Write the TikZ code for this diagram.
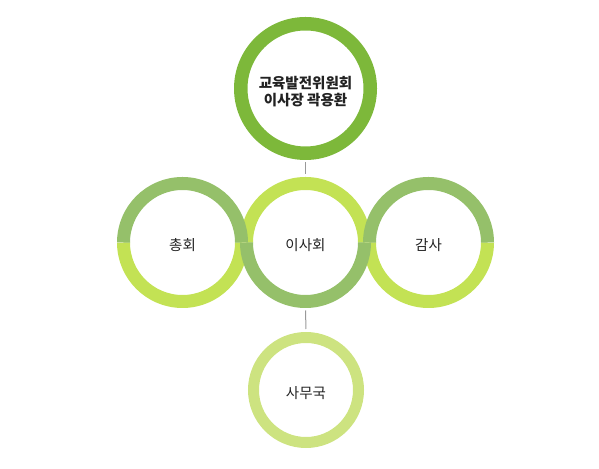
\documentclass[tikz,border=0pt]{standalone}
\usepackage{fontspec}
\setmainfont{Noto Sans CJK KR}
\definecolor{topgreen}{HTML}{7DB83A}
\definecolor{darkgreen}{HTML}{95C06A}
\definecolor{lightgreen}{HTML}{C3E254}
\definecolor{paleg}{HTML}{CDE380}
\definecolor{txt}{HTML}{222222}
\definecolor{conn}{HTML}{999999}
\begin{document}
\begin{tikzpicture}[x=1pt,y=1pt,
  holder/.style={circle,inner sep=0pt,outer sep=0pt},
  lbl/.style={inner sep=0pt,text=txt,font=\fontsize{14.5}{17.5}\selectfont,align=center},
  connector/.style={draw=conn,line width=1pt,shorten <=2.5pt,shorten >=3pt}]
\useasboundingbox (0,0) rectangle (599,468);
% circle holders
\node[holder,minimum size=143pt] (chair) at (305.5,379.5) {};
\node[holder,minimum size=131pt] (general) at (182.5,225.5) {};
\node[holder,minimum size=131pt] (board) at (305.5,225.5) {};
\node[holder,minimum size=131pt] (audit) at (428.5,225.5) {};
\node[holder,minimum size=116pt] (office) at (306,78) {};
% rings
\draw[topgreen,line width=13.5pt] (chair.center) circle (64.75);
\draw[paleg,line width=11pt] (office.center) circle (52.5);
% light halves first
\draw[lightgreen,line width=13pt] ([xshift=-59pt]general.center) arc (180:360:59);
\draw[lightgreen,line width=13pt] ([xshift=59pt]board.center) arc (0:180:59);
\draw[lightgreen,line width=13pt] ([xshift=-59pt]audit.center) arc (180:360:59);
% dark halves on top
\draw[darkgreen,line width=13pt] ([xshift=59pt]general.center) arc (0:180:59);
\draw[darkgreen,line width=13pt] ([xshift=-59pt]board.center) arc (180:360:59);
\draw[darkgreen,line width=13pt] ([xshift=59pt]audit.center) arc (0:180:59);
% labels
\node[lbl,font=\bfseries\fontsize{14.5}{17.5}\selectfont] (chairtext) at ([yshift=-3pt]chair.center) {교육발전위원회\\이사장 곽용환};
\node[lbl] (generaltext) at ([yshift=-3pt]general.center) {총회};
\node[lbl] (boardtext) at ([yshift=-3pt]board.center) {이사회};
\node[lbl] (audittext) at ([yshift=-3pt]audit.center) {감사};
\node[lbl] (officetext) at ([yshift=-3pt]office.center) {사무국};
% connectors
\draw[connector] (chair.south) -- (board.north);
\draw[connector] (board.south) -- (office.north);
\end{tikzpicture}
\end{document}
